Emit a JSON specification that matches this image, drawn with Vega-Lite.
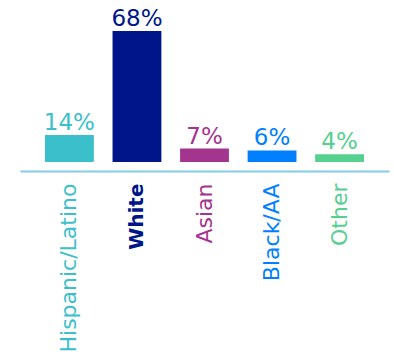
{
  "$schema": "https://vega.github.io/schema/vega-lite/v6.json",
  "autosize": "none",
  "width": 369,
  "height": 131,
  "padding": {"left": 20, "top": 31, "right": 5, "bottom": 199},
  "background": "white",
  "config": {"view": {"stroke": null}},
  "data": {"values": [
    {"group": "Hispanic/Latino", "pct": 14, "label": "14%"},
    {"group": "White", "pct": 68, "label": "68%"},
    {"group": "Asian", "pct": 7, "label": "7%"},
    {"group": "Black/AA", "pct": 6, "label": "6%"},
    {"group": "Other", "pct": 4, "label": "4%"}
  ]},
  "encoding": {
    "x": {
      "field": "group", "type": "nominal", "sort": null,
      "scale": {"paddingInner": 0.277, "paddingOuter": 0.37},
      "axis": {
        "title": null, "ticks": false, "domainColor": "#82CCE8", "domainWidth": 2,
        "offset": 9, "labelAngle": -90, "labelAlign": "right", "labelBaseline": "middle",
        "labelPadding": 12, "labelFont": "DejaVu Sans",
        "labelFontSize": {"condition": {"test": "datum.value == 'White'", "value": 20}, "value": 22},
        "labelFontWeight": {"condition": {"test": "datum.value == 'White'", "value": "bold"}, "value": "normal"},
        "labelColor": {"condition": [
          {"test": "datum.value == 'Hispanic/Latino'", "value": "#3BBFCA"},
          {"test": "datum.value == 'White'", "value": "#00158A"},
          {"test": "datum.value == 'Asian'", "value": "#A4358F"},
          {"test": "datum.value == 'Black/AA'", "value": "#0080FF"}
        ], "value": "#55D08F"}
      }
    },
    "y": {"field": "pct", "type": "quantitative", "scale": {"domain": [0, 68]}, "axis": null},
    "color": {
      "field": "group", "type": "nominal", "legend": null,
      "scale": {"domain": ["Hispanic/Latino", "White", "Asian", "Black/AA", "Other"],
                "range": ["#3BBFCA", "#00158A", "#A4358F", "#0080FF", "#55D08F"]}
    }
  },
  "layer": [
    {"mark": {"type": "bar"}},
    {"mark": {"type": "text", "baseline": "alphabetic", "dy": -5, "font": "DejaVu Sans", "fontSize": 23},
     "encoding": {"text": {"field": "label"}}}
  ]
}
